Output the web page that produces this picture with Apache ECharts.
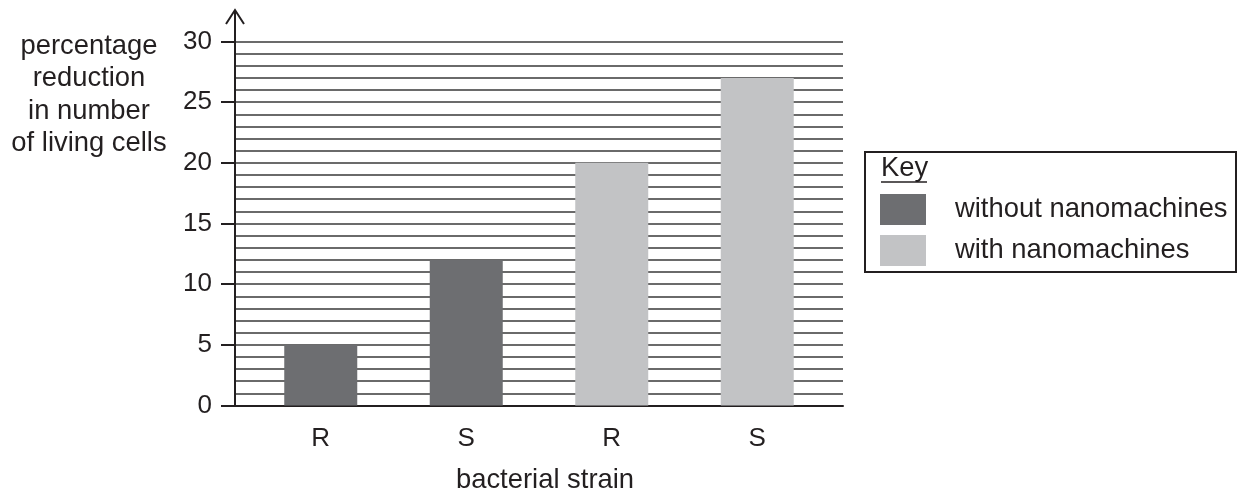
<!DOCTYPE html>
<html>
<head>
<meta charset="utf-8">
<script src="https://cdn.jsdelivr.net/npm/echarts@6/dist/echarts.min.js"></script>
<style>html,body{margin:0;padding:0;background:#fff}#c{width:1246px;height:492px}</style>
</head>
<body>
<div id="c"></div>
<script>
const categories = ['R', 'S', 'R', 'S'];
const withoutNano = [5, 12, '-', '-'];
const withNano = ['-', '-', 20, 27];
const seriesNames = ['without nanomachines', 'with nanomachines'];
const yTitle = 'percentage\nreduction\nin number\nof living cells';
const xTitle = 'bacterial strain';

const FONT = '"Liberation Sans", Arial, sans-serif';
const TXT = '#231f20';
const BIG = '27.4px ' + FONT;
const chart = echarts.init(document.getElementById('c'), null, {renderer: 'canvas'});
chart.setOption({
  animation: false,
  backgroundColor: '#fff',
  textStyle: {fontFamily: FONT},
  grid: [
    {left: 235, top: 41.5, width: 608, bottom: 86.5, containLabel: false},
    {left: 248, top: 41.5, width: 582, bottom: 86.5, containLabel: false}
  ],
  xAxis: [
    {gridIndex: 0, type: 'value', min: 0, max: 1, axisLabel: {show: false}, axisTick: {show: false},
     splitLine: {show: false}, axisLine: {show: true, lineStyle: {color: '#231f20', width: 2}}},
    {gridIndex: 1, type: 'category', data: categories, axisLine: {show: false}, axisTick: {show: false},
     axisLabel: {fontSize: 26, color: TXT, fontFamily: FONT, margin: 20}}
  ],
  yAxis: [
    {gridIndex: 0, type: 'value', min: 0, max: 30, interval: 5,
     axisLine: {show: true, lineStyle: {color: '#231f20', width: 2}},
     axisTick: {show: true, length: 14, lineStyle: {color: '#231f20', width: 2}},
     axisLabel: {fontSize: 26, color: TXT, fontFamily: FONT, margin: 23},
     splitLine: {show: true, lineStyle: {color: '#3a3a3a', width: 1.5}},
     minorTick: {show: false, splitNumber: 5},
     minorSplitLine: {show: true, lineStyle: {color: '#3a3a3a', width: 1.5}}},
    {gridIndex: 1, type: 'value', min: 0, max: 30, show: false}
  ],
  legend: {
    orient: 'vertical', left: 880, top: 194, itemWidth: 46, itemHeight: 31, itemGap: 10,
    padding: 0, icon: 'rect', selectedMode: false,
    data: seriesNames,
    textStyle: {fontSize: 27.4, color: TXT, fontFamily: FONT, padding: [0, 0, 0, 24]}
  },
  series: [
    {name: seriesNames[0], type: 'bar', xAxisIndex: 1, yAxisIndex: 1, stack: 'a', barWidth: 73,
     data: withoutNano, itemStyle: {color: '#6d6e71'}},
    {name: seriesNames[1], type: 'bar', xAxisIndex: 1, yAxisIndex: 1, stack: 'a', barWidth: 73,
     data: withNano, itemStyle: {color: '#c2c3c5'}}
  ],
  graphic: [
    {type: 'line', shape: {x1: 235, y1: 42, x2: 235, y2: 10}, style: {stroke: '#231f20', lineWidth: 2}},
    {type: 'polyline', shape: {points: [[226, 24], [235, 10], [244, 24]]}, style: {stroke: '#231f20', lineWidth: 2, fill: null}},
    {type: 'text', x: 89, y: 30, style: {text: yTitle, font: BIG, fill: TXT, align: 'center', lineHeight: 32.5}},
    {type: 'text', x: 545, y: 467, style: {text: xTitle, font: BIG, fill: TXT, align: 'center'}},
    {type: 'rect', shape: {x: 865, y: 152, width: 371, height: 120}, style: {stroke: '#231f20', lineWidth: 2, fill: null}},
    {type: 'text', x: 881, y: 155, style: {text: 'Key', font: BIG, fill: TXT}},
    {type: 'line', shape: {x1: 881, y1: 182, x2: 927, y2: 182}, style: {stroke: '#231f20', lineWidth: 1.5}}
  ]
});
</script>
</body>
</html>
